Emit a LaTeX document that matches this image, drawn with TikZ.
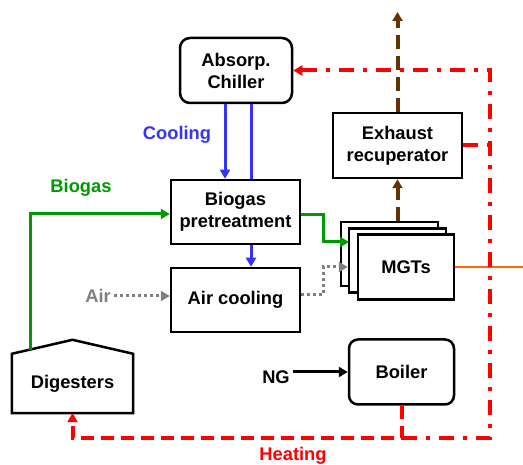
\documentclass[tikz,border=0pt]{standalone}
\usepackage{fontspec}
\setmainfont{Liberation Sans}
\usetikzlibrary{arrows.meta}
\definecolor{coolblue}{RGB}{51,51,255}
\definecolor{gasgreen}{RGB}{0,153,0}
\definecolor{airgray}{RGB}{128,128,128}
\definecolor{exhbrown}{RGB}{102,51,0}
\definecolor{elecorange}{RGB}{255,102,0}

\begin{document}
\begin{tikzpicture}[x=1pt, y=-1pt,
  every node/.style={font=\fontsize{18.3}{22}\selectfont\bfseries},
  unit/.style={draw, line width=2.5pt, minimum width=129pt, minimum height=64pt, align=center, fill=white, inner sep=2pt},
  tip/.style={-{Triangle[length=9pt,width=10pt]}},
  cool/.style={coolblue, line width=3pt},
  gas/.style={gasgreen, line width=3pt},
  airflow/.style={airgray, line width=3pt, dash pattern=on 3pt off 3pt},
  smoke/.style={exhbrown, line width=4pt, dash pattern=on 14pt off 7pt},
  heat/.style={red, line width=4pt, dash pattern=on 15pt off 9pt on 4pt off 9pt},
  heatdash/.style={red, line width=4pt, dash pattern=on 13pt off 7pt}
]
\useasboundingbox (0,0) rectangle (523,465);

\node[unit, rounded corners=10pt, minimum width=112pt, minimum height=65pt] (chiller) at (236,70.5) {Absorp.\\Chiller};
\node[unit] (pretreat) at (235.5,212) {Biogas\\pretreatment};
\node[unit] (aircool) at (235.5,300) {Air cooling};
\node[unit, minimum height=65pt] (exhaust) at (397.5,145.5) {Exhaust\\recuperator};
\node[unit, rounded corners=9pt, minimum width=105pt, minimum height=65pt] (boiler) at (401.5,372) {Boiler};
\node[unit, minimum width=97pt] (mgt1) at (389.5,254) {};
\node[unit, minimum width=97pt] (mgt2) at (397.5,260.5) {};
\node[unit, minimum width=96pt, minimum height=65pt] (mgt3) at (406,267) {MGTs};
\node[minimum width=121pt, minimum height=59pt] (dig) at (72.5,383.5) {Digesters};
\draw[line width=2.5pt] (dig.south west) -- (dig.north west) -- ([yshift=14pt]dig.north) -- (dig.north east) -- (dig.south east) -- cycle;

\node[coolblue] (cooltxt) at (177,135) {Cooling};
\node[gasgreen] (gastxt) at (81,188) {Biogas};
\node[airgray] (airtxt) at (98,296) {Air};
\node (ngtxt) at (276,377) {NG};
\node[red] (heattxt) at (293,456) {Heating};

\coordinate (gasout) at (30,350);
\coordinate (gasin) at (349,242);
\coordinate (stack) at (397.5,12);
\coordinate (elec) at (523,267);
\coordinate (hb) at (490,438);

% cooling loop
\draw[cool,tip] ([xshift=-11pt]chiller.south) -- ([xshift=-11pt]chiller.south |- pretreat.north);
\draw[cool] ([xshift=15pt]chiller.south) -- ([xshift=15pt]chiller.south |- pretreat.north);
\draw[cool,tip] ([xshift=15.5pt]pretreat.south) -- ([xshift=15.5pt]aircool.north);

% biogas and air
\draw[gas,tip] (gasout) |- ([yshift=-2pt]pretreat.west);
\draw[gas,tip] ([yshift=-3pt]pretreat.east) -- ++(22,0) |- (gasin);
\draw[airflow,tip] (airtxt) -- (aircool.west |- airtxt);
\draw[airflow,tip] ([yshift=5pt]aircool.east) -- ++(22,0) |- (mgt2.west |- mgt3.west);

% exhaust and power
\draw[smoke,tip] (exhaust.south |- mgt1.north) -- (exhaust.south);
\draw[smoke,tip] (exhaust.north) -- (stack);
\draw[elecorange, line width=1.5pt] (mgt3.east) -- (elec);
\draw[line width=3pt,tip] (ngtxt.east |- boiler.west) -- (boiler.west);

% heating
\draw[heat,tip] (boiler.south |- hb) -- (hb) |- (chiller.east);
\draw[heat] (exhaust.east) -- (hb |- exhaust.east);
\draw[heatdash,tip] (boiler.south) -- (boiler.south |- hb) -| (dig.south);
\end{tikzpicture}
\end{document}
